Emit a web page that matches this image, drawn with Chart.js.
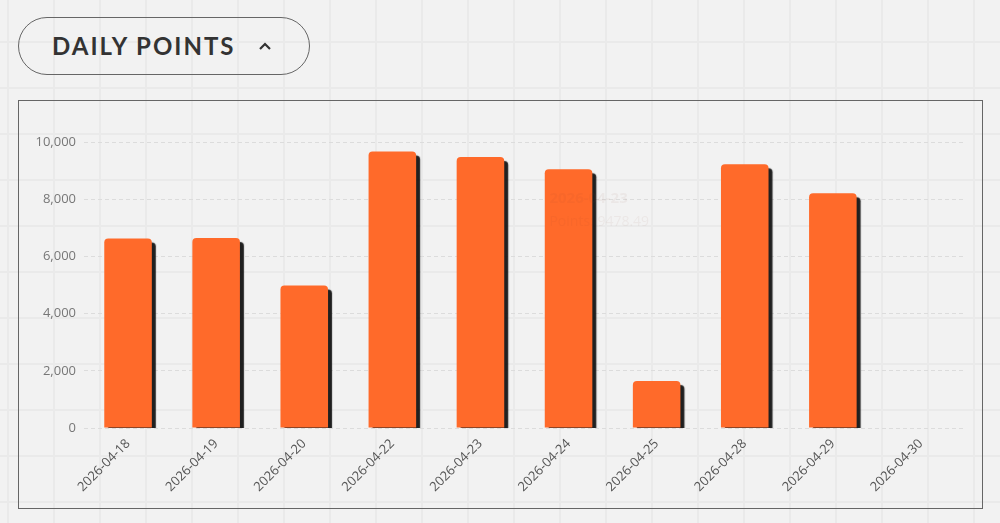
<!DOCTYPE html>
<html>
<head>
<meta charset="utf-8">
<script src="https://cdn.jsdelivr.net/npm/chart.js@4.4.1/dist/chart.umd.min.js"></script>
<style>
  html, body { margin: 0; padding: 0; }
  body {
    width: 1000px; height: 523px; overflow: hidden; position: relative;
    background-color: #f2f2f2;
    background-image:
      linear-gradient(#eaeaea 2px, transparent 2px),
      linear-gradient(90deg, #eaeaea 2px, transparent 2px);
    background-size: 46px 46px;
    background-position: 7px -5px;
    font-family: "Open Sans", sans-serif;
  }
  .pill {
    position: absolute; left: 18px; top: 17px; width: 292px; height: 58px;
    box-sizing: border-box; border: 1px solid #666; border-radius: 30px;
  }
  .pill .t {
    position: absolute; left: 33px; top: 14px;
    font-family: Lato, sans-serif; font-weight: 700; font-size: 24px;
    letter-spacing: 2px; color: #333; line-height: 28px;
  }
  .pill svg { position: absolute; left: 239px; top: 23px; }
  .box {
    position: absolute; left: 18px; top: 100px; width: 965px; height: 409px;
    box-sizing: border-box; border: 1px solid #666;
  }
  .box canvas { display: block; }
</style>
</head>
<body>
<div class="pill">
  <div class="t">DAILY POINTS</div>
  <svg width="14" height="10" viewBox="0 0 14 10"><polyline points="2,8 7,3 12,8" fill="none" stroke="#333" stroke-width="2.2"/></svg>
</div>
<div class="box"><canvas id="c" width="963" height="407"></canvas></div>
<script>
const categories = ["2026-04-18","2026-04-19","2026-04-20","2026-04-22","2026-04-23","2026-04-24","2026-04-25","2026-04-28","2026-04-29","2026-04-30"];
const points = [6622, 6643, 4979, 9664, 9478.49, 9045, 1643, 9220, 8206, 0];
const seriesLabel = "Points";

const shadowPlugin = {
  id: 'barShadow',
  beforeDatasetsDraw(chart) {
    const ctx = chart.ctx;
    ctx.save();
    ctx.shadowColor = 'rgba(20,20,20,0.95)';
    ctx.shadowOffsetX = 4;
    ctx.shadowOffsetY = 4;
    ctx.shadowBlur = 1;
  },
  afterDatasetsDraw(chart) { chart.ctx.restore(); }
};

Chart.Tooltip.positioners.faded = function(items) {
  if (!items.length) return false;
  const el = items[0].element;
  return { x: el.x + 49, y: el.y + 53 };
};

const chart = new Chart(document.getElementById('c'), {
  type: 'bar',
  data: {
    labels: categories,
    datasets: [{
      label: seriesLabel,
      data: points,
      backgroundColor: '#ff6a2a',
      hoverBackgroundColor: '#ff6a2a',
      borderRadius: { topLeft: 4, topRight: 4, bottomLeft: 0, bottomRight: 0 },
      borderSkipped: 'start',
      barPercentage: 0.6,
      categoryPercentage: 0.9
    }]
  },
  options: {
    responsive: false,
    animation: false,
    events: [],
    layout: { padding: { left: 0, right: 17, top: 41, bottom: 0 } },
    plugins: {
      legend: { display: false },
      tooltip: {
        position: 'faded',
        xAlign: 'left',
        yAlign: 'center',
        caretSize: 0,
        caretPadding: 0,
        displayColors: false,
        backgroundColor: 'rgba(255,255,255,0)',
        titleColor: 'rgba(140,70,50,0.06)',
        bodyColor: 'rgba(140,70,50,0.06)',
        titleFont: { family: 'Open Sans', size: 15, weight: 'bold' },
        bodyFont: { family: 'Open Sans', size: 14 },
        padding: { x: 20, y: 18 },
        titleMarginBottom: 6,
        cornerRadius: 6,
        callbacks: {
          label: (c) => seriesLabel + ': ' + c.raw
        }
      }
    },
    scales: {
      x: {
        grid: { display: false },
        border: { display: false },
        afterFit(s) { s.height = 80; },
        ticks: {
          color: '#555',
          font: { family: 'Open Sans', size: 13 },
          minRotation: 45, maxRotation: 45,
          padding: 0
        }
      },
      y: {
        min: 0, max: 10000,
        afterFit(s) { s.width = 65; },
        border: { display: false, dash: [4, 3] },
        grid: { color: '#dcdcdc', drawTicks: false },
        ticks: {
          stepSize: 2000,
          color: '#777',
          padding: 8,
          font: { family: 'Open Sans', size: 13 },
          callback: (v) => v.toLocaleString('en-US')
        }
      }
    }
  },
  plugins: [shadowPlugin]
});
chart.tooltip.setActiveElements([{ datasetIndex: 0, index: 4 }], { x: 0, y: 0 });
chart.update();
</script>
</body>
</html>
